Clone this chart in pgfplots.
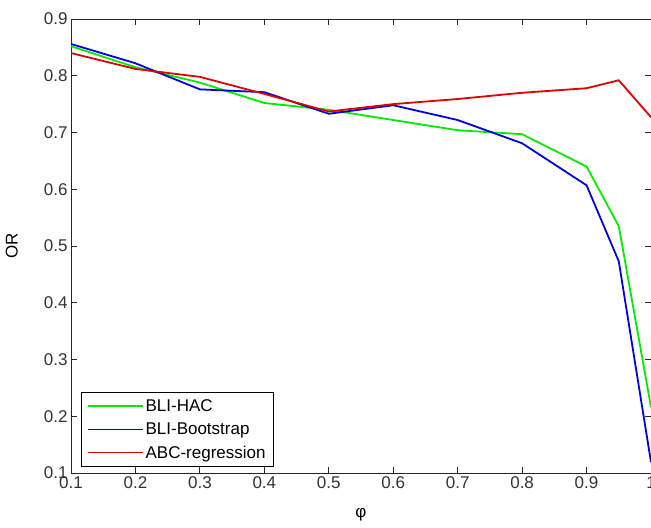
\documentclass[border=0pt]{standalone}
\usepackage{fontspec}
\setmainfont{Liberation Sans}
\usepackage{pgfplots}
\pgfplotsset{compat=1.18}
\usetikzlibrary{calc}

\definecolor{mgreen}{RGB}{0,235,0}
\definecolor{mblue}{RGB}{0,0,220}
\definecolor{mred}{RGB}{225,0,0}

\begin{document}
\begin{tikzpicture}
\begin{axis}[
  scale only axis,
  width=580pt, height=454pt,
  xmin=0.1, xmax=1, ymin=0.1, ymax=0.9,
  xtick={0.1,0.2,0.3,0.4,0.5,0.6,0.7,0.8,0.9,1},
  ytick={0.1,0.2,0.3,0.4,0.5,0.6,0.7,0.8,0.9},
  xticklabels={0.1,0.2,0.3,0.4,0.5,0.6,0.7,0.8,0.9,1},
  yticklabels={0.1,0.2,0.3,0.4,0.5,0.6,0.7,0.8,0.9},
  tick align=inside,
  major tick length=6pt,
  axis line style={line width=0.8pt, black!85},
  every tick/.style={black!85, line width=0.8pt},
  tick label style={font=\fontsize{17}{19}\selectfont, text=black!80},
  label style={font=\fontsize{17}{19}\selectfont},
  xlabel={φ},
  ylabel={OR},
  xlabel style={at={(axis description cs:0.5,-0.0925)}, anchor=center},
  ylabel style={at={(axis description cs:-0.102,0.5)}, anchor=center},
  legend style={at={(axis description cs:0.0172,0.0132)}, anchor=south west,
    draw=black, line width=0.6pt, font=\fontsize{17}{19}\selectfont,
    row sep=6pt, inner xsep=6pt, inner ysep=5pt},
  legend cell align=left,
  legend image code/.code={\draw[#1, line width=1.3pt] (0pt,0pt) -- (55pt,0pt);},
]
  % BLI-HAC
  \addplot[mgreen, line width=1.8pt] coordinates {
    (0.1,0.852) (0.2,0.815) (0.3,0.788) (0.4,0.752) (0.5,0.740) (0.6,0.722)
    (0.7,0.704) (0.8,0.697) (0.9,0.640) (0.95,0.535) (1,0.216)
  };
  % BLI-Bootstrap
  \addplot[mblue, line width=1.8pt] coordinates {
    (0.1,0.856) (0.2,0.822) (0.3,0.776) (0.4,0.771) (0.5,0.733) (0.6,0.748)
    (0.7,0.722) (0.8,0.681) (0.9,0.607) (0.95,0.473) (1,0.119)
  };
  % ABC-regression
  \addplot[mred, line width=1.8pt] coordinates {
    (0.1,0.840) (0.2,0.812) (0.3,0.798) (0.4,0.768) (0.5,0.737) (0.6,0.750)
    (0.7,0.759) (0.8,0.770) (0.9,0.778) (0.95,0.792) (1,0.727)
  };
  \legend{BLI-HAC, BLI-Bootstrap, ABC-regression}
\end{axis}
\pgfresetboundingbox
\path[use as bounding box] ($(current axis.south west)+(-71pt,-55pt)$) rectangle ($(current axis.north east)+(0pt,19pt)$);
\end{tikzpicture}
\end{document}
